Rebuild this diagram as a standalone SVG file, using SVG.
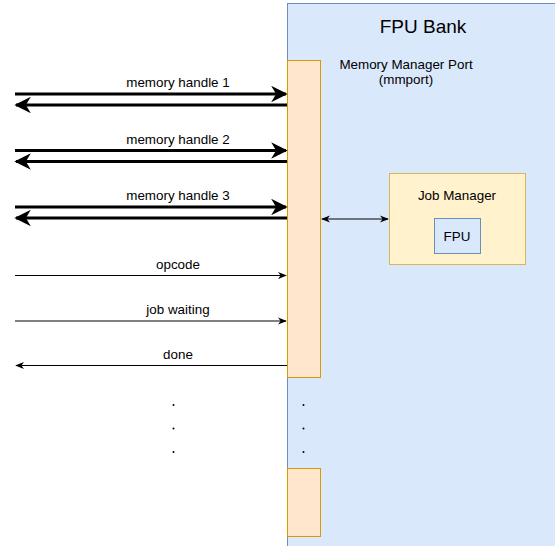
<svg xmlns="http://www.w3.org/2000/svg" width="555" height="546" viewBox="0 0 555 546">
<style>
text{font-family:"Liberation Sans",Arial,sans-serif;font-size:13.4px;fill:#000;text-anchor:middle}
.blue{fill:#dae8fc;stroke:#6c8ebf;stroke-width:1}
.orange{fill:#ffe6cc;stroke:#d79b00;stroke-width:1}
.yellow{fill:#fff2cc;stroke:#d6b656;stroke-width:1}
.thick{stroke:#000;stroke-width:3;fill:none}
.thin{stroke:#000;stroke-width:1;fill:none}
</style>
<defs>
<marker id="ab" viewBox="0 0 10 10" refX="9" refY="5" markerWidth="5.5" markerHeight="5.5" orient="auto-start-reverse" markerUnits="strokeWidth"><path d="M0,0 L10,5 L0,10 L3,5 Z" fill="#000"/></marker>
<marker id="a" viewBox="0 0 10 10" refX="9" refY="5" markerWidth="9" markerHeight="9" orient="auto-start-reverse" markerUnits="userSpaceOnUse"><path d="M0,1 L10,5 L0,9 L3,5 Z" fill="#000"/></marker>
</defs>
<g id="fpu-bank"><rect class="blue" x="287.5" y="3.5" width="280" height="560"/><text x="423" y="33" style="font-size:19px">FPU Bank</text></g>
<g id="mmport"><rect class="orange" x="287.5" y="60.5" width="33" height="317"/><text x="406" y="69">Memory Manager Port</text><text x="406" y="84">(mmport)</text></g>
<g id="port-lower"><rect class="orange" x="287.5" y="468.5" width="33" height="68"/></g>
<g id="job-manager"><rect class="yellow" x="389.5" y="173.5" width="136" height="91"/><text x="457" y="200">Job Manager</text></g>
<g id="fpu"><rect class="blue" x="434.5" y="218.5" width="46" height="35"/><text x="457" y="241">FPU</text></g>
<g id="connectors">
<line class="thick" x1="15" y1="94" x2="286" y2="94" marker-end="url(#ab)"/>
<line class="thick" x1="287" y1="105" x2="16" y2="105" marker-end="url(#ab)"/>
<line class="thick" x1="15" y1="150.5" x2="286" y2="150.5" marker-end="url(#ab)"/>
<line class="thick" x1="287" y1="161.5" x2="16" y2="161.5" marker-end="url(#ab)"/>
<line class="thick" x1="15" y1="207" x2="286" y2="207" marker-end="url(#ab)"/>
<line class="thick" x1="287" y1="218" x2="16" y2="218" marker-end="url(#ab)"/>
<line class="thin" x1="15" y1="275.5" x2="286" y2="275.5" marker-end="url(#a)"/>
<line class="thin" x1="15" y1="321" x2="286" y2="321" marker-end="url(#a)"/>
<line class="thin" x1="287" y1="365.5" x2="16" y2="365.5" marker-end="url(#a)"/>
<line class="thin" x1="322" y1="219" x2="388" y2="219" marker-start="url(#a)" marker-end="url(#a)"/>
</g>
<g id="labels">
<text x="178" y="87">memory handle 1</text>
<text x="178" y="144">memory handle 2</text>
<text x="178" y="200">memory handle 3</text>
<text x="178" y="269">opcode</text>
<text x="178" y="314">job waiting</text>
<text x="178" y="359">done</text>
</g>
<g id="dots" fill="#000">
<circle cx="173.5" cy="405" r="1"/><circle cx="173.5" cy="428.5" r="1"/><circle cx="173.5" cy="452" r="1"/>
<circle cx="303.5" cy="405" r="1"/><circle cx="303.5" cy="428.5" r="1"/><circle cx="303.5" cy="452" r="1"/>
</g>
</svg>
